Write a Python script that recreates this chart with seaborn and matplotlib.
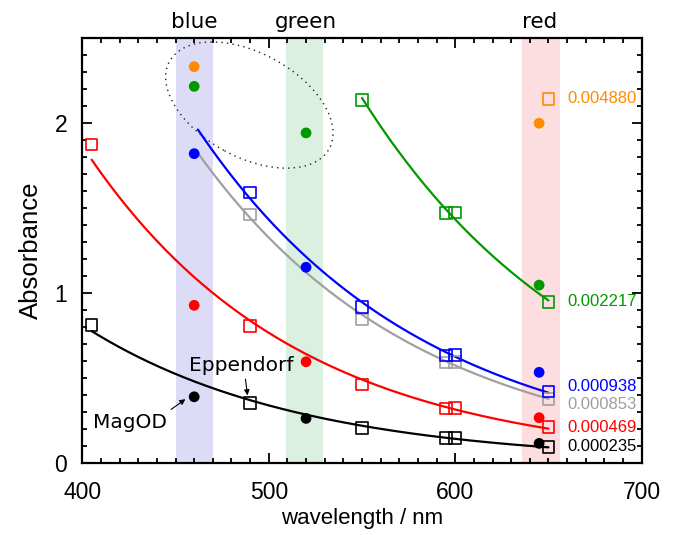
import numpy as np
import matplotlib
matplotlib.use("Agg")
import matplotlib.pyplot as plt
from matplotlib.patches import Ellipse
from matplotlib.transforms import ScaledTranslation
from matplotlib.ticker import MultipleLocator
import seaborn as sns

# Eppendorf measurements (open squares) and fit curves
sq_wl = [405, 490, 550, 595, 600, 650]
black_sq = [0.812, 0.353, 0.206, 0.145, 0.145, 0.094]
red_sq = [1.873, 0.804, 0.461, 0.320, 0.322, 0.210]
blue_sq_wl = [490, 550, 595, 600, 650]
blue_sq = [1.590, 0.918, 0.630, 0.635, 0.420]
gray_sq = [1.460, 0.843, 0.590, 0.592, 0.375]
green_sq_wl = [550, 595, 600, 650]
green_sq = [2.132, 1.470, 1.472, 0.947]
orange_sq_wl = [650]
orange_sq = [2.138]

# MagOD measurements (filled circles)
led_wl = [460, 520, 645]
black_dot = [0.388, 0.261, 0.114]
red_dot = [0.926, 0.594, 0.265]
blue_dot = [1.818, 1.150, 0.532]
green_dot = [2.214, 1.940, 1.045]
orange_dot_wl = [460, 645]
orange_dot = [2.330, 1.997]

# concentration labels on the right
conc_labels = ["0.004880", "0.002217", "0.000938", "0.000853", "0.000469", "0.000235"]
conc_y = [2.14, 0.95, 0.45, 0.345, 0.21, 0.093]
conc_colors = ["#ff8c00", "#009900", "#0000ff", "#a0a0a0", "#ff0000", "#000000"]

# LED bands
bands = [("blue", 450, 470, 460, "#dcdcf6"),
         ("green", 509, 529, 520, "#dcf0e2"),
         ("red", 636, 656, 645, "#fcdde0")]

sns.set_style("ticks", {"axes.edgecolor": "black", "xtick.color": "black",
                        "ytick.color": "black", "text.color": "black",
                        "axes.labelcolor": "black"})
plt.rcParams["font.family"] = ["Liberation Sans", "DejaVu Sans"]

fig = plt.figure(figsize=(6.83, 5.35), dpi=100)
ax = fig.add_axes([0.1205, 0.135, 0.819, 0.7945])

for name, lo, hi, mid, col in bands:
    ax.axvspan(lo, hi, color=col, lw=0, zorder=0)
    ax.text(mid, 1.014, name, transform=ax.get_xaxis_transform(), ha="center",
            va="bottom", fontsize=15.5, family="DejaVu Sans")


def fit_curve(wl, ab, start):
    # exponential fit of the squares: ln(A) linear in wavelength
    k, c = np.polyfit(np.asarray(wl, float), np.log(ab), 1)
    x = np.linspace(start, 650, 200)
    return x, np.exp(c + k * x)


series = [
    (sq_wl, black_sq, 405, "#000000"),
    (sq_wl, red_sq, 405, "#ff0000"),
    (blue_sq_wl, gray_sq, 462, "#a0a0a0"),
    (blue_sq_wl, blue_sq, 462, "#0000ff"),
    (green_sq_wl, green_sq, 550, "#009900"),
]
for wl, ab, start, col in series:
    x, y = fit_curve(wl, ab, start)
    sns.lineplot(x=x, y=y, ax=ax, color=col, lw=1.6, zorder=2)
    sns.scatterplot(x=wl, y=ab, ax=ax, marker="s", s=70, facecolor="none",
                    edgecolor=col, linewidth=1.2, zorder=3)
sns.scatterplot(x=orange_sq_wl, y=orange_sq, ax=ax, marker="s", s=70,
                facecolor="none", edgecolor="#ff8c00", linewidth=1.2, zorder=3)

dots = [
    (led_wl, black_dot, "#000000"),
    (led_wl, red_dot, "#ff0000"),
    (led_wl, blue_dot, "#0000ff"),
    (led_wl, green_dot, "#009900"),
    (orange_dot_wl, orange_dot, "#ff8c00"),
]
for wl, ab, col in dots:
    sns.scatterplot(x=wl, y=ab, ax=ax, marker="o", s=60, color=col,
                    edgecolor="none", zorder=4)

for lab, yy, col in zip(conc_labels, conc_y, conc_colors):
    ax.text(660, yy, lab, color=col, fontsize=12, va="center", ha="left")

# dotted ellipse around the saturated points
ell = Ellipse((0, 0), 1.82, 1.04, angle=-28.6, fill=False, ls=(0, (1, 3)),
              lw=1.0, color="#222222",
              transform=fig.dpi_scale_trans + ScaledTranslation(489.6, 2.104, ax.transData))
ax.add_patch(ell)

ax.annotate("MagOD", xy=(455.9, 0.379), xytext=(425.4, 0.235), fontsize=14.5,
            family="DejaVu Sans", ha="center", va="center",
            arrowprops=dict(arrowstyle="-|>", lw=0.8, color="black",
                            mutation_scale=8, shrinkA=1, shrinkB=1,
                            relpos=(0.97, 0.95)))
ax.annotate("Eppendorf", xy=(488.7, 0.388), xytext=(485.5, 0.575), fontsize=14.5,
            family="DejaVu Sans", ha="center", va="center",
            arrowprops=dict(arrowstyle="-|>", lw=0.8, color="black",
                            mutation_scale=8, shrinkA=1, shrinkB=1,
                            relpos=(0.53, 0.0)))

ax.set_xlim(400, 700)
ax.set_ylim(0, 2.5)
ax.xaxis.set_major_locator(MultipleLocator(100))
ax.xaxis.set_minor_locator(MultipleLocator(10))
ax.yaxis.set_major_locator(MultipleLocator(1))
ax.yaxis.set_minor_locator(MultipleLocator(0.1))
ax.tick_params(which="both", direction="in", top=True, right=True, width=1.3,
               labelsize=16.5)
ax.tick_params(which="major", length=7)
ax.tick_params(which="minor", length=3.5)
ax.tick_params(axis="x", which="major", pad=13)
ax.tick_params(axis="y", which="major", pad=11)
for sp in ax.spines.values():
    sp.set_linewidth(1.6)
    sp.set_visible(True)

ax.set_xlabel("wavelength / nm", fontsize=16, labelpad=3)
ax.set_ylabel("Absorbance", fontsize=18.5, labelpad=8)

fig.savefig("out.png", dpi=100)
